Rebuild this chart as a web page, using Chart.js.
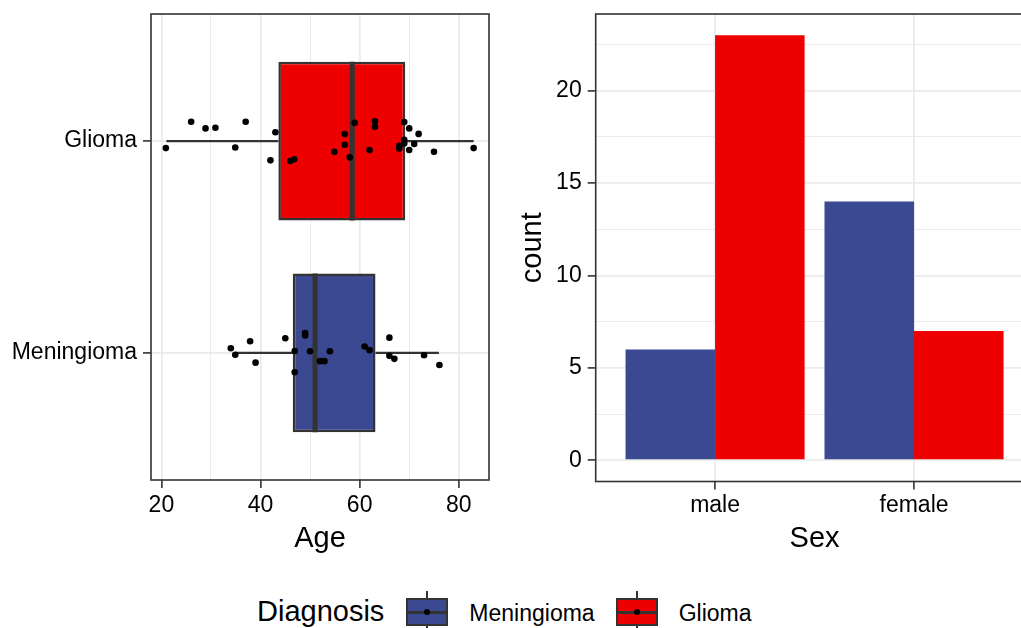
<!DOCTYPE html>
<html lang="en">
<head>
    <meta charset="UTF-8">
    <title>Age and Sex by Diagnosis</title>
    <script src="https://cdn.jsdelivr.net/npm/chart.js"></script>
    <style>
        html, body {
            margin: 0;
            padding: 0;
            background: #ffffff;
            overflow: hidden;
        }
        body {
            position: relative;
            width: 1021px;
            height: 628px;
            font-family: 'Liberation Sans', Arial, sans-serif;
            color: #000;
        }
        #ageChart { position: absolute; left: 0; top: 0; }
        #sexChart { position: absolute; left: 505px; top: 0; }
        #legend {
            position: absolute;
            left: 257px;
            top: 591px;
            height: 42px;
            display: flex;
            align-items: center;
            white-space: nowrap;
        }
        .legend-title { font-size: 29px; line-height: 42px; margin-right: 22px; position: relative; top: -1px; }
        .legend-label { font-size: 23px; line-height: 42px; margin-right: 21px; position: relative; top: 1px; }
        .key { position: relative; width: 42px; height: 42px; margin-right: 21px; }
        .key i { position: absolute; display: block; }
        .key .wh { left: 20px; top: 0; width: 2px; height: 42px; background: #333; }
        .key .bx { left: 0; top: 7px; width: 42px; height: 28px; box-sizing: border-box; border: 2.5px solid #333; }
        .key .md { left: 0; top: 20px; width: 42px; height: 2.5px; background: #333; }
        .key .dot { left: 18px; top: 18px; width: 6px; height: 6px; border-radius: 50%; background: #000; }
    </style>
</head>
<body>

<canvas id="ageChart" width="505" height="560"></canvas>
<canvas id="sexChart" width="540" height="560"></canvas>
<div id="legend"></div>

<script>
    // categories (bottom to top on the age panel)
    const diagnoses = ['Meningioma', 'Glioma'];
    const fillColours = ['#3B4992', '#EE0000'];

    // age panel
    const ageTicks = [20, 40, 60, 80];
    const whiskerLow = [35, 21];
    const lowerQuartile = [46.5, 43.6];
    const medianAge = [51.0, 58.5];
    const upperQuartile = [63.2, 69.2];
    const whiskerHigh = [76, 83];

    const meningiomaAges = [34.0, 34.9, 37.9, 39.0, 45.0, 46.9, 46.9, 49.0, 49.0, 50.0,
                            52.0, 52.9, 54.0, 61.0, 62.0, 66.0, 66.0, 67.0, 73.0, 76.1];
    const meningiomaJitter = [0.022, -0.009, 0.055, -0.046, 0.069, 0.009, -0.091, 0.094, 0.082, 0.008,
                              -0.039, -0.039, 0.008, 0.030, 0.013, 0.072, -0.014, -0.028, -0.011, -0.057];
    const gliomaAges = [20.9, 26.0, 28.9, 30.9, 37.0, 34.9, 43.0, 42.0, 46.0, 46.8,
                        54.9, 57.0, 57.0, 58.0, 59.0, 62.0, 63.1, 63.1, 68.0, 68.0,
                        69.0, 69.0, 70.0, 69.0, 71.0, 71.9, 70.0, 75.0, 83.0];
    const gliomaJitter = [-0.033, 0.091, 0.060, 0.063, 0.091, -0.030, 0.042, -0.091, -0.094, -0.086,
                          -0.050, 0.033, -0.017, -0.077, 0.086, -0.042, 0.094, 0.068, -0.035, -0.022,
                          0.090, 0.006, 0.060, -0.011, -0.014, 0.034, -0.042, -0.050, -0.033];

    // sex panel
    const sexes = ['male', 'female'];
    const meningiomaCounts = [6, 14];
    const gliomaCounts = [23, 7];
    const countTicks = [0, 5, 10, 15, 20];

    const INK = '#333333';
    const GRID = '#EBEBEB';
    const BOX_HALF = 0.375;

    Chart.defaults.font.family = "'Liberation Sans', Arial, sans-serif";
    Chart.defaults.color = '#000';

    // ggplot-like frame round the panel
    const panelBorder = {
        id: 'panelBorder',
        afterDatasetsDraw(chart) {
            const { ctx, chartArea: a } = chart;
            ctx.save();
            ctx.strokeStyle = INK;
            ctx.lineWidth = 1.6;
            ctx.strokeRect(a.left, a.top, a.right - a.left, a.bottom - a.top);
            ctx.restore();
        }
    };

    const withMinor = (major) => {
        const half = (major[1] - major[0]) / 2;
        return major.flatMap((v, i) => i ? [v - half, v] : [v]);
    };

    // fixed axis box sizes, no label overhang padding
    const fixWidth = px => s => { s.width = px; s.paddingTop = 0; s.paddingBottom = 0; };
    const fixHeight = px => s => { s.height = px; s.paddingLeft = 0; s.paddingRight = 0; };

    // ---------- age boxplot ----------
    const jitters = [meningiomaJitter, gliomaJitter];
    const ageLists = [meningiomaAges, gliomaAges];

    const pointSets = ageLists.map((ages, i) => ({
        type: 'scatter',
        data: ages.map((a, k) => ({ x: a, y: i + 1 + jitters[i][k] })),
        backgroundColor: '#000',
        borderWidth: 0,
        pointRadius: 3.3,
        order: 0
    }));

    const medianSets = diagnoses.map((d, i) => ({
        type: 'line',
        data: [{ x: medianAge[i], y: i + 1 - BOX_HALF }, { x: medianAge[i], y: i + 1 + BOX_HALF }],
        borderColor: INK,
        borderWidth: 5,
        pointRadius: 0,
        order: 1
    }));

    const boxSet = {
        type: 'bar',
        data: diagnoses.map((d, i) => ({ y: i + 1, x: [lowerQuartile[i], upperQuartile[i]] })),
        backgroundColor: fillColours,
        borderColor: INK,
        borderWidth: 2.5,
        borderSkipped: false,
        barPercentage: 0.75,
        categoryPercentage: 1,
        order: 2
    };

    const whiskerSets = diagnoses.flatMap((d, i) => [
        [whiskerLow[i], lowerQuartile[i]],
        [upperQuartile[i], whiskerHigh[i]]
    ].map(([from, to]) => ({
        type: 'line',
        data: [{ x: from, y: i + 1 }, { x: to, y: i + 1 }],
        borderColor: INK,
        borderWidth: 2.2,
        pointRadius: 0,
        order: 3
    })));

    const ageGrid = withMinor(ageTicks);

    new Chart(document.getElementById('ageChart'), {
        type: 'bar',
        data: { datasets: [...pointSets, ...medianSets, boxSet, ...whiskerSets] },
        options: {
            responsive: false,
            animation: false,
            indexAxis: 'y',
            layout: { autoPadding: false, padding: { top: 14, right: 16, left: 0, bottom: 0 } },
            plugins: { legend: { display: false }, tooltip: { enabled: false } },
            scales: {
                x: {
                    type: 'linear',
                    min: 17.9,
                    max: 86.1,
                    offset: false,
                    afterBuildTicks: s => { s.ticks = ageGrid.map(v => ({ value: v })); },
                    ticks: {
                        callback: v => ageTicks.includes(v) ? String(v) : '',
                        font: { size: 23 },
                        padding: 3.5,
                        maxRotation: 0,
                        autoSkip: false
                    },
                    grid: {
                        offset: false,
                        color: GRID,
                        lineWidth: c => ageTicks.includes(c.tick.value) ? 1.8 : 1,
                        tickColor: c => ageTicks.includes(c.tick.value) ? INK : 'rgba(0,0,0,0)',
                        tickLength: 8,
                        tickWidth: 1.6
                    },
                    border: { display: false },
                    title: { display: true, text: 'Age', font: { size: 29 }, padding: { top: 0, bottom: 4 } },
                    afterFit: fixHeight(80)
                },
                y: {
                    type: 'linear',
                    min: 0.4,
                    max: 2.6,
                    offset: false,
                    afterBuildTicks: s => { s.ticks = diagnoses.map((d, i) => ({ value: i + 1 })); },
                    ticks: { callback: v => diagnoses[v - 1], font: { size: 23 }, padding: 6 },
                    grid: { offset: false, color: GRID, lineWidth: 1.8, tickColor: INK, tickLength: 8, tickWidth: 1.6 },
                    border: { display: false },
                    afterFit: fixWidth(151)
                }
            }
        },
        plugins: [panelBorder]
    });

    // ---------- sex counts ----------
    const countGrid = withMinor(countTicks).concat([countTicks[countTicks.length - 1] + (countTicks[1] - countTicks[0]) / 2]);

    new Chart(document.getElementById('sexChart'), {
        type: 'bar',
        data: {
            datasets: [meningiomaCounts, gliomaCounts].map((counts, i) => ({
                label: diagnoses[i],
                data: sexes.map((s, k) => ({ x: k + 1, y: counts[k] })),
                backgroundColor: fillColours[i],
                borderWidth: 0,
                categoryPercentage: 0.9,
                barPercentage: 1
            }))
        },
        options: {
            responsive: false,
            animation: false,
            layout: { autoPadding: false, padding: { top: 14, right: 11.6, left: 0, bottom: 0 } },
            plugins: { legend: { display: false }, tooltip: { enabled: false } },
            scales: {
                x: {
                    type: 'linear',
                    min: 0.4,
                    max: 2.6,
                    offset: false,
                    afterBuildTicks: s => { s.ticks = sexes.map((x, k) => ({ value: k + 1 })); },
                    ticks: { callback: v => sexes[v - 1], font: { size: 23 }, padding: 2, maxRotation: 0, autoSkip: false },
                    grid: { offset: false, color: GRID, lineWidth: 1.8, tickColor: INK, tickLength: 8, tickWidth: 1.6 },
                    border: { display: false },
                    title: { display: true, text: 'Sex', font: { size: 29 }, padding: { top: 0, bottom: 4 } },
                    afterFit: fixHeight(78.5)
                },
                y: {
                    type: 'linear',
                    min: -1.15,
                    max: 24.15,
                    afterBuildTicks: s => { s.ticks = countGrid.map(v => ({ value: v })); },
                    ticks: {
                        callback: v => countTicks.includes(v) ? String(v) : '',
                        font: { size: 23 },
                        padding: 6,
                        autoSkip: false
                    },
                    grid: {
                        color: GRID,
                        lineWidth: c => countTicks.includes(c.tick.value) ? 1.8 : 1,
                        tickColor: c => countTicks.includes(c.tick.value) ? INK : 'rgba(0,0,0,0)',
                        tickLength: 8,
                        tickWidth: 1.6
                    },
                    border: { display: false },
                    title: { display: true, text: 'count', font: { size: 29 }, padding: { top: 10.9, bottom: 0 } },
                    afterFit: fixWidth(90.7)
                }
            }
        },
        plugins: [panelBorder]
    });

    // ---------- shared legend ----------
    const legend = document.getElementById('legend');
    legend.innerHTML = '<span class="legend-title">Diagnosis</span>' + diagnoses.map((d, i) =>
        '<span class="key"><i class="wh"></i><i class="bx" style="background:' + fillColours[i] + '"></i>' +
        '<i class="md"></i><i class="dot"></i></span><span class="legend-label">' + d + '</span>'
    ).join('');
</script>

</body>
</html>
